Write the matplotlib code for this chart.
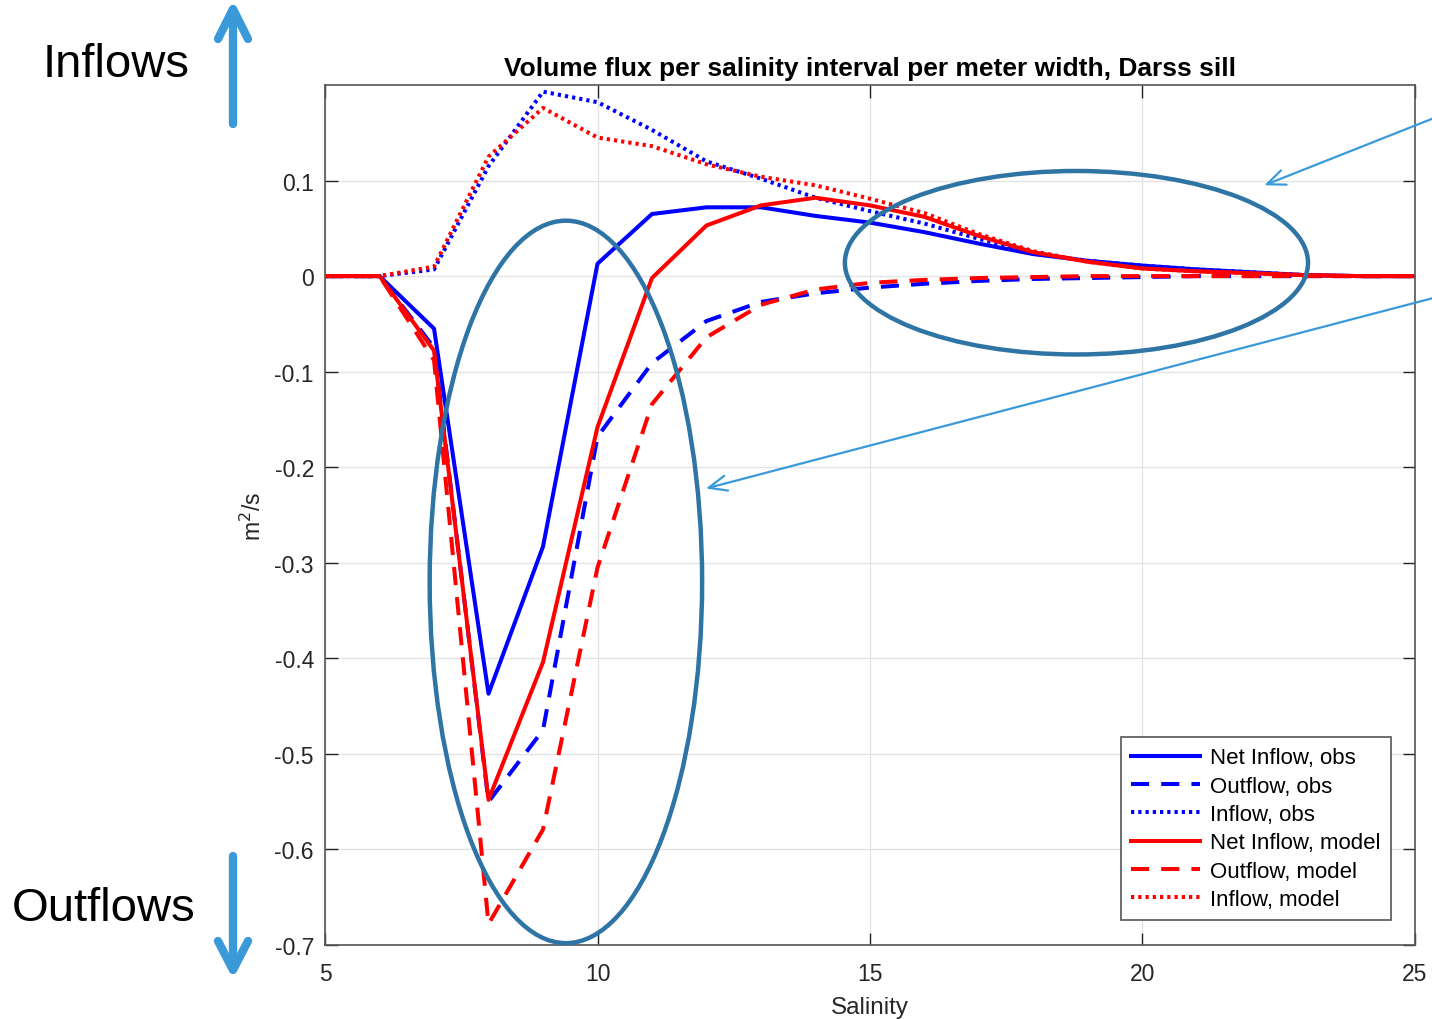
import matplotlib
matplotlib.use("Agg")
import matplotlib.pyplot as plt
from matplotlib.patches import Ellipse
from matplotlib.lines import Line2D

plt.rcParams['font.family'] = ['Liberation Sans', 'DejaVu Sans']

# Salinity bins and fluxes (m^2/s)
salinity = list(range(5, 26))

net_obs = [0, 0, -0.055, -0.437, -0.283, 0.013, 0.065, 0.072, 0.072, 0.063, 0.056,
           0.046, 0.034, 0.023, 0.016, 0.011, 0.007, 0.004, 0.001, 0, 0]
out_obs = [0, 0, -0.075, -0.550, -0.475, -0.168, -0.091, -0.047, -0.027, -0.018, -0.012,
           -0.008, -0.005, -0.003, -0.002, -0.001, 0, 0, 0, 0, 0]
in_obs = [0, 0, 0.007, 0.115, 0.193, 0.182, 0.153, 0.120, 0.102, 0.082, 0.068,
          0.055, 0.039, 0.024, 0.016, 0.011, 0.007, 0.004, 0.001, 0, 0]

net_mod = [0, 0, -0.078, -0.548, -0.404, -0.158, -0.002, 0.053, 0.074, 0.082, 0.074,
           0.062, 0.042, 0.025, 0.015, 0.008, 0.005, 0.003, 0.001, 0, 0]
out_mod = [0, 0, -0.088, -0.678, -0.579, -0.305, -0.134, -0.064, -0.030, -0.014, -0.007,
           -0.004, -0.002, -0.001, 0, 0, 0, 0, 0, 0, 0]
in_mod = [0, 0, 0.010, 0.125, 0.176, 0.145, 0.136, 0.117, 0.104, 0.095, 0.081,
          0.066, 0.044, 0.026, 0.015, 0.008, 0.005, 0.003, 0.001, 0, 0]

fig = plt.figure(figsize=(14.32, 10.2), dpi=100)
ax = fig.add_axes([0.227, 0.0725, 0.761, 0.8432])

lw = 2.9
dash = (4.5, 3)
dot = (0.8, 1.0)
ax.plot(salinity, net_obs, color='#0000ff', lw=lw, label='Net Inflow, obs')
ax.plot(salinity, out_obs, color='#0000ff', lw=lw, dashes=dash, label='Outflow, obs')
ax.plot(salinity, in_obs, color='#0000ff', lw=lw, dashes=dot, label='Inflow, obs')
ax.plot(salinity, net_mod, color='#ff0000', lw=lw, label='Net Inflow, model')
ax.plot(salinity, out_mod, color='#ff0000', lw=lw, dashes=dash, label='Outflow, model')
ax.plot(salinity, in_mod, color='#ff0000', lw=lw, dashes=dot, label='Inflow, model')

ax.set_xlim(5, 25)
ax.set_ylim(-0.7, 0.2)
ax.set_xticks([5, 10, 15, 20, 25])
ax.set_yticks([-0.7, -0.6, -0.5, -0.4, -0.3, -0.2, -0.1, 0, 0.1])
ax.set_yticklabels(['-0.7', '-0.6', '-0.5', '-0.4', '-0.3', '-0.2', '-0.1', '0', '0.1'])
ax.grid(True, color='#e3e3e3', lw=1)
ax.set_axisbelow(True)
ax.tick_params(direction='in', top=True, right=True, length=9, width=1,
               colors='#262626', labelsize=16.5)
ax.tick_params(axis='x', pad=12)
ax.tick_params(axis='y', pad=8)
for s in ax.spines.values():
    s.set_color('#555555')
    s.set_linewidth(1.2)

ax.set_xlabel('Salinity', fontsize=17.5, color='#262626', labelpad=8)
ax.set_ylabel('m$^2$/s', fontsize=16.5, color='#262626', labelpad=6)
ax.set_title('Volume flux per salinity interval per meter width, Darss sill',
             fontsize=19, fontweight='bold', pad=7)

leg = ax.legend(loc='lower right', bbox_to_anchor=(0.978, 0.029), borderaxespad=0,
                fontsize=16, handlelength=3.1, handletextpad=0.45, labelspacing=0.33,
                fancybox=False, framealpha=1, borderpad=0.45)
leg.get_frame().set_edgecolor('#555555')
leg.get_frame().set_linewidth(1.2)

# Highlight regions
ring = '#2e74a5'
ax.add_patch(Ellipse((9.42, -0.320), 5.0, 0.756, fill=False, ec=ring, lw=3.2,
                     clip_on=False, zorder=5))
ax.add_patch(Ellipse((18.79, 0.014), 8.5, 0.192, fill=False, ec=ring, lw=3.2,
                     clip_on=False, zorder=5))

pointer = dict(arrowstyle='->,head_length=1.3,head_width=0.55', color='#3a9ad9', lw=1.6)
ax.annotate('', xy=(22.19, 0.094), xytext=(25.4, 0.1665), arrowprops=pointer,
            annotation_clip=False)
ax.annotate('', xy=(11.94, -0.223), xytext=(25.4, -0.022), arrowprops=pointer,
            annotation_clip=False)

# Inflow / outflow direction markers, in figure pixels from the top-left
W, H = 1432.0, 1020.0


def fig_line(xs, ys):
    fig.add_artist(Line2D([x / W for x in xs], [1 - y / H for y in ys],
                          transform=fig.transFigure, color='#3a9ad9', lw=6,
                          solid_capstyle='round', solid_joinstyle='round'))


fig_line([233, 233], [125, 12])
fig_line([218, 233, 248], [40, 10, 40])
fig_line([233, 233], [857, 968])
fig_line([218, 233, 248], [942, 971, 942])

fig.text(0.0295, 0.936, 'Inflows', fontsize=34, va='center', ha='left')
fig.text(0.0085, 0.109, 'Outflows', fontsize=34, va='center', ha='left')

fig.savefig('out.png', dpi=100)
